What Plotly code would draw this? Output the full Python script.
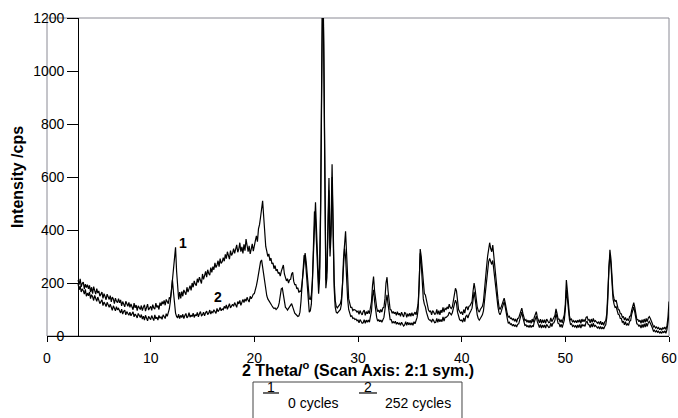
import plotly.graph_objects as go

# 2-theta grid (degrees), 0.1 deg steps from 3.0 to 60.0
two_theta = [round(3 + 0.1 * i, 1) for i in range(571)]

# Curve 1: 0 cycles (10 values per degree, 3.0 ... 59.9, then 60.0)
intensity_0_cycles = [
    211, 194, 216, 186, 199, 203, 178, 196, 183, 194,
    178, 191, 166, 184, 160, 186, 171, 158, 179, 162,
    170, 150, 158, 166, 142, 160, 149, 137, 158, 146,
    138, 152, 129, 147, 140, 122, 143, 131, 126, 141,
    125, 136, 114, 130, 121, 110, 131, 119, 112, 127,
    108, 121, 113, 99, 124, 106, 117, 96, 114, 108,
    100, 115, 96, 109, 118, 94, 104, 120, 98, 108,
    112, 97, 118, 106, 101, 124, 108, 115, 100, 126,
    114, 130, 120, 134, 116, 138, 126, 122, 146, 140,
    170, 215, 265, 315, 335, 245, 170, 138, 166, 142,
    168, 150, 174, 162, 156, 184, 166, 178, 190, 172,
    200, 184, 208, 196, 190, 216, 202, 222, 206, 198,
    234, 214, 228, 244, 222, 250, 236, 230, 258, 240,
    262, 250, 276, 258, 268, 284, 262, 292, 274, 280,
    296, 282, 308, 292, 318, 298, 290, 322, 304, 312,
    330, 312, 324, 344, 316, 328, 352, 318, 336, 312,
    346, 322, 366, 330, 318, 340, 310, 328, 348, 320,
    348, 360, 378, 356, 404, 420, 448, 478, 510, 452,
    392, 338, 320, 300, 310, 284, 294, 272, 276, 254,
    266, 246, 252, 236, 240, 226, 244, 262, 268, 234,
    222, 208, 216, 200, 212, 214, 234, 240, 206, 194,
    194, 178, 182, 164, 170, 168, 198, 240, 300, 313,
    280, 220, 165, 140, 138, 155, 210, 320, 450, 505,
    400, 250, 195, 260, 520, 1000, 1400, 1100, 440, 210,
    250, 420, 596, 330, 420, 648, 420, 210, 135, 112,
    106, 110, 116, 122, 140, 190, 290, 360, 395, 310,
    190, 140, 124, 108, 108, 96, 100, 98, 96, 90,
    94, 82, 96, 86, 80, 92, 98, 78, 92, 84,
    96, 84, 108, 130, 190, 224, 170, 125, 108, 92,
    98, 88, 100, 90, 106, 108, 140, 200, 222, 170,
    125, 100, 98, 86, 92, 84, 90, 78, 92, 80,
    86, 74, 90, 78, 72, 88, 86, 70, 84, 74,
    86, 74, 88, 76, 82, 90, 80, 96, 120, 190,
    328, 300, 240, 180, 160, 155, 130, 108, 98, 92,
    94, 80, 96, 90, 82, 84, 100, 82, 96, 80,
    98, 88, 108, 90, 104, 100, 110, 102, 120, 108,
    104, 110, 130, 160, 180, 170, 125, 100, 92, 86,
    90, 80, 100, 86, 108, 110, 98, 112, 114, 124,
    130, 170, 200, 175, 135, 110, 96, 90, 100, 108,
    112, 130, 165, 210, 260, 300, 330, 352, 330, 318,
    343, 300, 250, 200, 170, 140, 110, 100, 108, 118,
    132, 143, 125, 98, 84, 70, 74, 66, 68, 60,
    66, 56, 64, 52, 66, 68, 80, 92, 105, 86,
    72, 58, 62, 52, 60, 50, 60, 48, 64, 52,
    70, 85, 92, 70, 62, 50, 64, 48, 62, 50,
    62, 48, 64, 58, 50, 52, 68, 54, 66, 70,
    78, 102, 85, 64, 64, 52, 62, 50, 66, 80,
    120, 211, 170, 100, 76, 60, 64, 52, 58, 52,
    58, 50, 60, 52, 62, 48, 64, 54, 62, 54,
    70, 73, 60, 62, 50, 64, 52, 66, 54, 58,
    54, 48, 54, 44, 56, 42, 52, 40, 54, 58,
    85, 160, 280, 325, 290, 220, 160, 140, 130, 135,
    115, 100, 98, 84, 84, 70, 74, 60, 70, 58,
    64, 58, 74, 76, 98, 110, 126, 108, 84, 62,
    62, 54, 60, 48, 62, 50, 64, 52, 66, 54,
    68, 73, 66, 50, 46, 34, 38, 30, 34, 28,
    32, 24, 30, 22, 32, 26, 34, 24, 38, 70,
    130,
]

# Curve 2: 252 cycles
intensity_252_cycles = [
    197, 174, 189, 166, 178, 171, 158, 176, 150, 162,
    152, 166, 141, 156, 148, 134, 153, 139, 131, 147,
    138, 122, 130, 137, 115, 128, 121, 111, 127, 114,
    108, 120, 103, 97, 114, 106, 95, 111, 99, 104,
    96, 87, 101, 83, 93, 98, 80, 92, 85, 78,
    90, 76, 84, 91, 72, 83, 77, 68, 85, 73,
    70, 81, 64, 75, 60, 78, 69, 57, 74, 66,
    62, 77, 68, 58, 80, 65, 71, 60, 78, 67,
    72, 63, 80, 70, 66, 84, 74, 88, 102, 130,
    172, 211, 165, 118, 86, 74, 68, 82, 66, 78,
    70, 82, 66, 77, 85, 68, 74, 88, 71, 79,
    73, 86, 70, 81, 76, 89, 72, 84, 92, 77,
    80, 90, 76, 88, 94, 81, 86, 98, 83, 92,
    88, 99, 94, 85, 104, 92, 98, 108, 95, 102,
    99, 112, 104, 117, 101, 110, 122, 106, 114, 120,
    112, 126, 118, 108, 130, 121, 134, 116, 127, 138,
    126, 140, 131, 146, 136, 128, 150, 141, 148, 158,
    160, 172, 190, 210, 240, 265, 280, 287, 260, 220,
    190, 168, 152, 140, 132, 126, 118, 114, 108, 104,
    106, 100, 104, 110, 125, 160, 178, 181, 150, 122,
    108, 104, 98, 104, 110, 118, 122, 110, 94, 86,
    82, 78, 74, 76, 90, 130, 190, 270, 305, 300,
    240, 170, 110, 90, 95, 120, 200, 320, 470, 440,
    330, 200, 160, 220, 470, 950, 1400, 1050, 400, 180,
    220, 380, 550, 300, 380, 600, 380, 180, 110, 90,
    86, 90, 94, 100, 120, 180, 280, 330, 300, 210,
    140, 100, 90, 74, 76, 66, 68, 62, 64, 58,
    60, 50, 62, 56, 48, 50, 62, 48, 60, 52,
    60, 52, 72, 95, 150, 174, 130, 90, 70, 56,
    62, 54, 60, 52, 66, 70, 100, 140, 155, 120,
    86, 62, 62, 50, 54, 48, 56, 44, 52, 44,
    50, 40, 52, 46, 38, 42, 54, 40, 52, 42,
    50, 42, 50, 40, 54, 46, 56, 70, 100, 180,
    312, 270, 200, 140, 120, 110, 90, 72, 64, 60,
    60, 52, 64, 58, 50, 52, 66, 52, 64, 54,
    62, 54, 72, 56, 70, 70, 74, 78, 90, 82,
    80, 88, 100, 120, 135, 125, 90, 70, 62, 58,
    60, 52, 68, 54, 74, 78, 68, 80, 86, 96,
    105, 140, 167, 140, 105, 80, 66, 60, 66, 74,
    80, 95, 130, 170, 215, 255, 280, 293, 275, 270,
    285, 250, 205, 165, 135, 110, 88, 80, 90, 105,
    120, 130, 110, 80, 66, 48, 52, 44, 46, 38,
    44, 36, 42, 34, 44, 46, 62, 78, 90, 70,
    56, 40, 42, 34, 40, 32, 42, 32, 40, 34,
    52, 66, 75, 54, 46, 32, 44, 30, 42, 32,
    42, 30, 44, 38, 32, 34, 48, 36, 48, 50,
    60, 85, 70, 48, 46, 34, 44, 32, 46, 60,
    100, 174, 140, 90, 62, 44, 46, 36, 40, 34,
    40, 30, 42, 32, 44, 30, 44, 38, 42, 36,
    52, 55, 44, 42, 32, 46, 34, 48, 36, 40,
    36, 30, 36, 26, 36, 26, 34, 26, 36, 42,
    70, 140, 260, 305, 270, 200, 140, 120, 108, 110,
    95, 82, 80, 66, 66, 52, 56, 42, 54, 40,
    46, 40, 56, 58, 82, 94, 110, 90, 68, 46,
    44, 36, 42, 30, 44, 32, 46, 34, 48, 36,
    50, 55, 48, 34, 30, 18, 22, 14, 20, 14,
    18, 10, 16, 10, 18, 12, 20, 10, 24, 50,
    90,
]

series_names = ["0 cycles", "252 cycles"]
series_labels = ["1", "2"]
label_positions = [(13.15, 350), (16.5, 148)]

x_ticks = [0, 10, 20, 30, 40, 50, 60]
y_ticks = [0, 200, 400, 600, 800, 1000, 1200]

x_title = "<b>2 Theta/<sup>o</sup> (Scan Axis: 2:1 sym.)</b>"
y_title = "<b>Intensity /cps</b>"

FONT = "Liberation Sans, Arial, sans-serif"

fig = go.Figure()
for name, ys in zip(series_names, [intensity_0_cycles, intensity_252_cycles]):
    fig.add_trace(go.Scatter(
        x=two_theta, y=ys, mode="lines", name=name, showlegend=False,
        line=dict(color="black", width=1.2),
    ))

for lab, (lx, ly) in zip(series_labels, label_positions):
    fig.add_annotation(x=lx, y=ly, text=f"<b>{lab}</b>", showarrow=False,
                       yanchor="middle",
                       font=dict(family=FONT, size=14, color="black"))

# x-axis title placed directly under the tick labels
fig.add_annotation(xref="paper", yref="paper", x=0.5, y=-0.104, yanchor="middle",
                   text=x_title, showarrow=False, font=dict(size=16))

# plot-area border (grey)
fig.add_shape(type="rect", xref="paper", yref="paper", x0=0, x1=1, y0=0, y1=1,
              line=dict(color="#8a8a94", width=1), layer="below")

# legend drawn as a boxed key below the axis title
legend_box = dict(x0=0.3312, x1=0.6672, y0=-0.1447, y1=-0.30)
fig.add_shape(type="rect", xref="paper", yref="paper", **legend_box,
              line=dict(color="#444444", width=1), fillcolor="white")
legend_items = [  # (line x0, line x1, text x)
    (0.3473, 0.3730, 0.3842),
    (0.5016, 0.5305, 0.5402),
]
for (lx0, lx1, tx), lab, name in zip(legend_items, series_labels, series_names):
    fig.add_shape(type="line", xref="paper", yref="paper", x0=lx0, x1=lx1,
                  y0=-0.1792, y1=-0.1792, line=dict(color="black", width=1.2))
    fig.add_annotation(xref="paper", yref="paper", x=(lx0 + lx1) / 2, y=-0.1604,
                       yanchor="middle", text=lab, showarrow=False,
                       font=dict(size=14))
    fig.add_annotation(xref="paper", yref="paper", x=tx, y=-0.2107, xanchor="left",
                       yanchor="middle", text=name, showarrow=False,
                       font=dict(size=14))

fig.update_layout(
    width=678, height=418,
    margin=dict(l=47, r=9, t=18, b=82),
    paper_bgcolor="white", plot_bgcolor="white",
    font=dict(family=FONT, size=14, color="black"),
    showlegend=False,
    xaxis=dict(range=[0, 60], tickvals=x_ticks, ticktext=[str(v) for v in x_ticks],
               showgrid=False, zeroline=False, showline=True, linecolor="black",
               linewidth=1, ticks="outside", ticklen=5, tickcolor="black",
               ticklabelstandoff=4, automargin=False),
    yaxis=dict(range=[0, 1200], tickvals=y_ticks, ticktext=[str(v) for v in y_ticks],
               showgrid=False, zeroline=False, showline=True, linecolor="black",
               linewidth=1, ticks="outside", ticklen=11, tickcolor="black",
               anchor="free", position=0.05, automargin=False,
               title=dict(text=y_title, font=dict(size=16), standoff=4)),
)

# remove the page's default 8px body margin so the figure fills the window
fig.write_html("out.html",
               config={"displayModeBar": False},
               post_script="document.body.style.margin='0px';"
                           "document.body.style.overflow='hidden';")
